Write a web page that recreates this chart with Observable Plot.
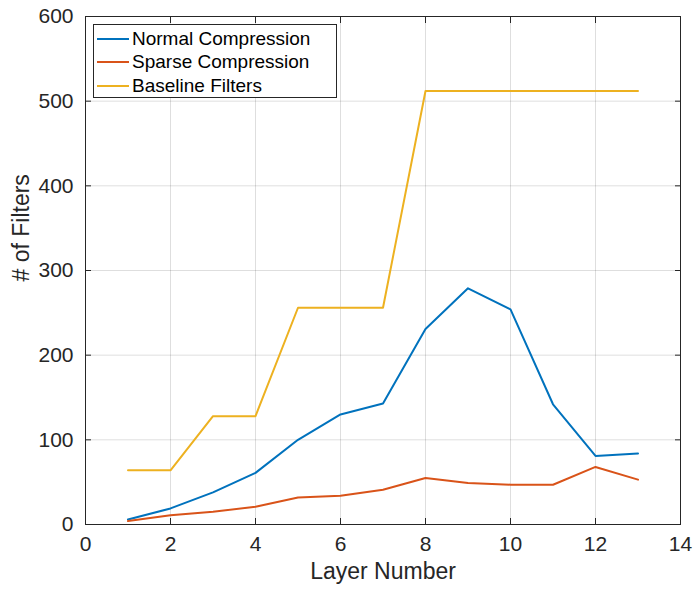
<!DOCTYPE html>
<html>
<head>
<meta charset="utf-8">
<script src="https://cdn.jsdelivr.net/npm/d3@7"></script>
<script src="https://cdn.jsdelivr.net/npm/@observablehq/plot@0.6"></script>
<style>
  html, body { margin: 0; padding: 0; background: #fff; }
  #wrap { position: relative; width: 693px; height: 589px; font-family: "Liberation Sans", Arial, Helvetica, sans-serif; }
  #legend { position: absolute; left: 93px; top: 24px; width: 244px; height: 74px; border: 1px solid #262626; background: #fff; box-sizing: border-box; }
  .row { position: absolute; left: 3px; height: 24px; display: flex; align-items: center; font-size: 19px; color: #000; white-space: nowrap; }
  .sw { width: 32px; height: 2px; margin-right: 3px; }
</style>
</head>
<body>
<div id="wrap"></div>
<script>
const layers = [1,2,3,4,5,6,7,8,9,10,11,12,13];
const normalCompression = [6,19,38,61,100,130,143,231,279,254,142,81,84];
const sparseCompression = [4,11,15,21,32,34,41,55,49,47,47,68,53];
const baselineFilters = [64,64,128,128,256,256,256,512,512,512,512,512,512];
const seriesNames = ["Normal Compression","Sparse Compression","Baseline Filters"];
const seriesColors = ["#0072BD","#D95319","#EDB120"];
const xTicks = [0,2,4,6,8,10,12,14];
const yTicks = [0,100,200,300,400,500,600];

const seriesValues = [normalCompression, sparseCompression, baselineFilters];
const data = [];
seriesNames.forEach((name, s) => layers.forEach((l, i) => data.push({layer: l, value: seriesValues[s][i], series: name})));

const axisColor = "#262626";
const noText = () => "";
const chart = Plot.plot({
  width: 693, height: 589,
  marginLeft: 85, marginRight: 13, marginTop: 16, marginBottom: 65,
  style: {fontFamily: '"Liberation Sans", Arial, Helvetica, sans-serif', fontSize: "21px", color: axisColor, background: "#fff"},
  x: {domain: [0,14]},
  y: {domain: [0,600]},
  color: {domain: seriesNames, range: seriesColors},
  marks: [
    Plot.gridX(xTicks, {stroke: "#000", strokeOpacity: 0.13}),
    Plot.gridY(yTicks, {stroke: "#000", strokeOpacity: 0.13}),
    Plot.line(data, {x: "layer", y: "value", z: "series", stroke: "series", strokeWidth: 2}),
    Plot.axisX({anchor: "bottom", ticks: xTicks, tickSize: -6, tickFormat: noText, label: null, stroke: axisColor}),
    Plot.axisX({anchor: "top", ticks: xTicks, tickSize: -6, tickFormat: noText, label: null, stroke: axisColor}),
    Plot.axisY({anchor: "left", ticks: yTicks, tickSize: -6, tickFormat: noText, label: null, stroke: axisColor}),
    Plot.axisY({anchor: "right", ticks: yTicks, tickSize: -6, tickFormat: noText, label: null, stroke: axisColor}),
    Plot.axisX({anchor: "bottom", ticks: xTicks, tickSize: 0, tickPadding: 12, label: null, fill: axisColor, fontSize: 21}),
    Plot.axisY({anchor: "left", ticks: yTicks, tickSize: 0, tickPadding: 12, label: null, fill: axisColor, fontSize: 21}),
    Plot.frame({stroke: axisColor}),
    Plot.text(["Layer Number"], {frameAnchor: "bottom", dy: 54, fontSize: 23, fill: axisColor}),
    Plot.text(["# of Filters"], {frameAnchor: "left", dx: -64, dy: 11, rotate: -90, fontSize: 23, fill: axisColor})
  ]
});
const wrap = document.getElementById("wrap");
wrap.appendChild(chart);

const legend = document.createElement("div");
legend.id = "legend";
seriesNames.forEach((name, i) => {
  const row = document.createElement("div");
  row.className = "row";
  row.style.top = (1.5 + i * 23.5) + "px";
  const sw = document.createElement("div");
  sw.className = "sw";
  sw.style.background = seriesColors[i];
  const t = document.createElement("span");
  t.textContent = name;
  row.appendChild(sw); row.appendChild(t);
  legend.appendChild(row);
});
wrap.appendChild(legend);
</script>
</body>
</html>
